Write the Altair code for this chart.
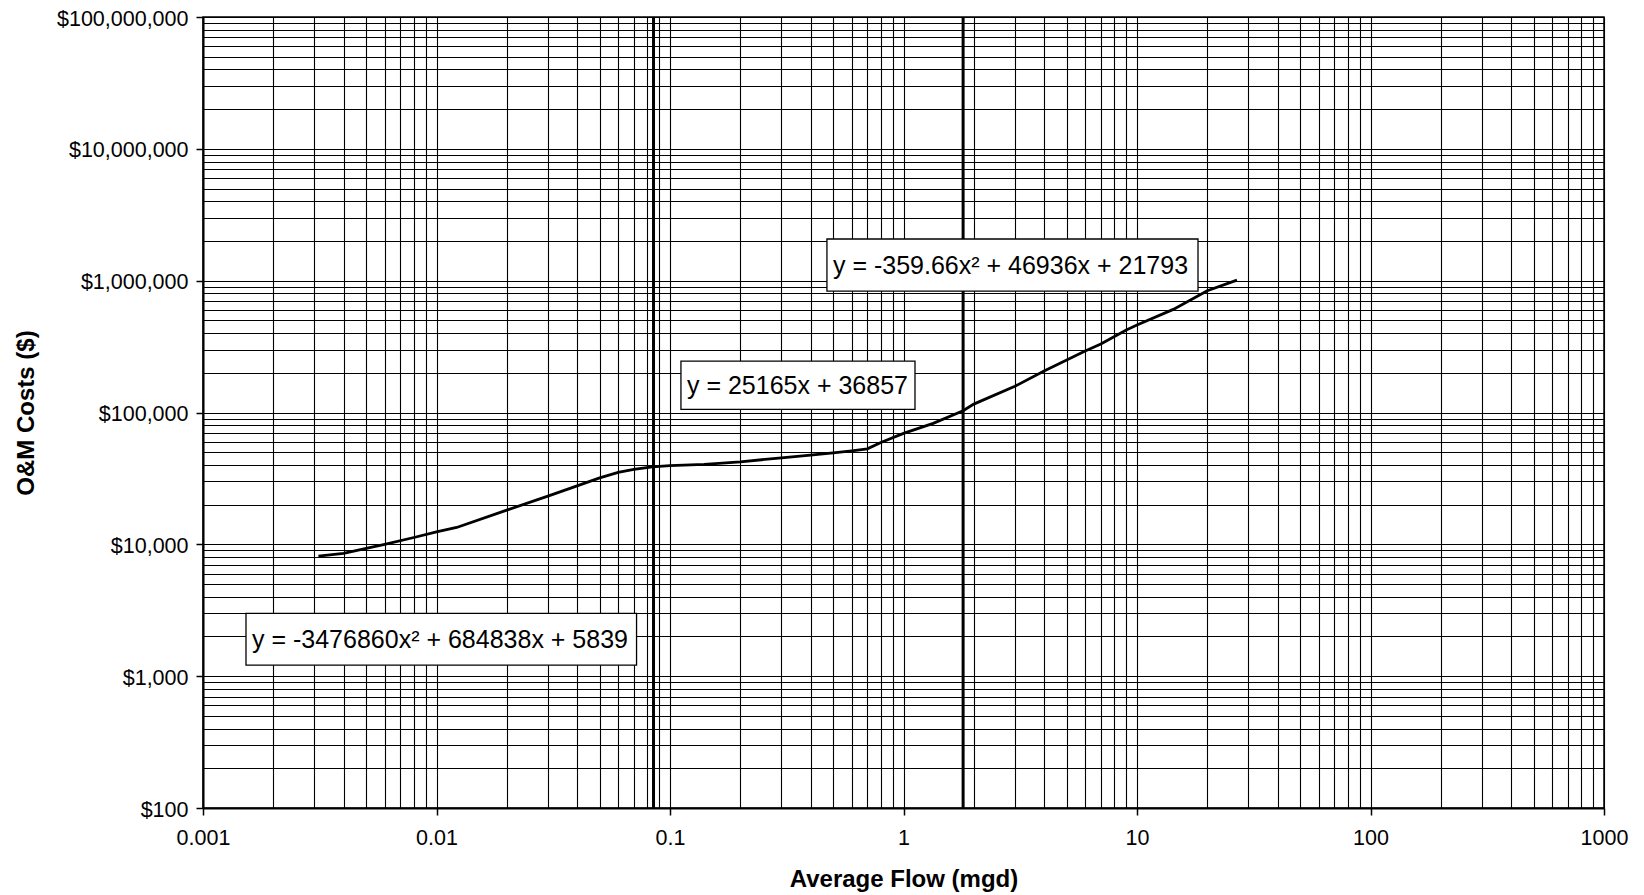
import math
import altair as alt
import pandas as pd

# ---- data ----
FLOW = [0.00312, 0.004, 0.005, 0.006, 0.008, 0.01, 0.0122, 0.02, 0.03, 0.04, 0.05,
        0.06, 0.07, 0.084, 0.1, 0.14, 0.2, 0.3, 0.4, 0.5, 0.6, 0.7, 0.8, 1.0, 1.34,
        1.8, 2.0, 3.0, 4.0, 5.0, 6.0, 7.0, 9.0, 10.0, 14.3, 20.0, 26.8]
COST = [8140, 8530, 9310, 10000, 11270, 12440, 13430, 18180, 23220, 27780, 31960,
        35130, 37000, 38730, 39600, 40350, 42270, 45330, 47530, 49450, 51200, 53000,
        59300, 69390, 82650, 103000, 115800, 158000, 206100, 249700, 292300, 330300,
        421900, 460500, 605600, 838400, 1010600]

BREAKS = [0.085, 1.8]

EQ_TEXT = ["y = -359.66x\u00b2 + 46936x + 21793",
           "y = 25165x + 36857",
           "y = -3476860x\u00b2 + 684838x + 5839"]
BOX_X1 = [0.470, 0.1114, 0.001528]
BOX_X2 = [18.25, 1.12, 0.0719]
BOX_Y1 = [833700, 105560, 1212]
BOX_Y2 = [2070000, 245500, 2992]

X_MAJOR = [0.001, 0.01, 0.1, 1, 10, 100, 1000]
X_LABELS = ["0.001", "0.01", "0.1", "1", "10", "100", "1000"]
Y_MAJOR = [100, 1000, 10000, 100000, 1000000, 10000000, 100000000]
Y_LABELS = ["$100", "$1,000", "$10,000", "$100,000", "$1,000,000", "$10,000,000",
            "$100,000,000"]

X_TITLE = "Average Flow (mgd)"
Y_TITLE = "O&M Costs ($)"


def with_minors(majors):
    vals = []
    for i, v in enumerate(majors):
        vals.append(v)
        if i < len(majors) - 1:
            for m in range(2, 10):
                vals.append(round(m * v, 12))
    return vals


def label_expr(majors, labels):
    expr = "''"
    for v, l in zip(reversed(majors), reversed(labels)):
        expr = f"datum.value == {v!r} ? '{l}' : ({expr})"
    return expr


def major_test(majors):
    return "indexof([" + ",".join(repr(v) for v in majors) + "], datum.value) >= 0"


line_df = pd.DataFrame({"flow": FLOW, "cost": COST})
break_df = pd.DataFrame({"flow": BREAKS})
box_df = pd.DataFrame({"text": EQ_TEXT, "x1": BOX_X1, "x2": BOX_X2,
                       "y1": BOX_Y1, "y2": BOX_Y2})
box_df["ym"] = [math.sqrt(a * b) for a, b in zip(BOX_Y1, BOX_Y2)]

xscale = alt.Scale(type="log", domain=[X_MAJOR[0], X_MAJOR[-1]], nice=False)
yscale = alt.Scale(type="log", domain=[Y_MAJOR[0], Y_MAJOR[-1]], nice=False)

common_axis = dict(grid=True, gridColor="black", gridWidth=1.1, gridOpacity=1,
                   tickSize=7, tickWidth=1.5, tickColor="black",
                   domainColor="black", domainWidth=2,
                   labelFont="Arial", labelFontSize=21.5, labelColor="black",
                   labelOverlap=False, labelFlush=False, labelBound=False,
                   titleFont="Arial", titleFontSize=24, titleFontWeight="bold",
                   titleColor="black")

x_axis = alt.Axis(values=with_minors(X_MAJOR),
                  labelExpr=label_expr(X_MAJOR, X_LABELS),
                  tickOpacity={"condition": {"test": major_test(X_MAJOR), "value": 1}, "value": 0},
                  labelPadding=12, titlePadding=19, title=X_TITLE, **common_axis)
y_axis = alt.Axis(values=with_minors(Y_MAJOR),
                  labelExpr=label_expr(Y_MAJOR, Y_LABELS),
                  tickOpacity={"condition": {"test": major_test(Y_MAJOR), "value": 1}, "value": 0},
                  labelOffset=2,
                  labelPadding=8, titlePadding=18, title=Y_TITLE, **common_axis)

line = alt.Chart(line_df).mark_line(color="black", strokeWidth=2.8).encode(
    x=alt.X("flow:Q", scale=xscale, axis=x_axis),
    y=alt.Y("cost:Q", scale=yscale, axis=y_axis),
    order="flow:Q",
)

rules = alt.Chart(break_df).mark_rule(color="black", strokeWidth=3).encode(
    x=alt.X("flow:Q", scale=xscale, axis=x_axis),
)

boxes = alt.Chart(box_df).mark_rect(fill="white", stroke="black", strokeWidth=1.3).encode(
    x=alt.X("x1:Q", scale=xscale, axis=x_axis),
    x2="x2:Q",
    y=alt.Y("y1:Q", scale=yscale, axis=y_axis),
    y2="y2:Q",
)

texts = alt.Chart(box_df).mark_text(align="left", baseline="middle", dx=6, dy=1,
                                    font="Arial", fontSize=25, color="black").encode(
    x=alt.X("x1:Q", scale=xscale, axis=x_axis),
    y=alt.Y("ym:Q", scale=yscale, axis=y_axis),
    text="text:N",
)

chart = alt.layer(rules, line, boxes, texts).properties(
    width=1401, height=791,
    autosize=alt.AutoSizeParams(type="none"),
    padding={"left": 195, "top": 9, "right": 30, "bottom": 87},
).configure_view(stroke="black", strokeWidth=1.5)

chart.save("out.html", embed_options={"renderer": "svg", "actions": False})
